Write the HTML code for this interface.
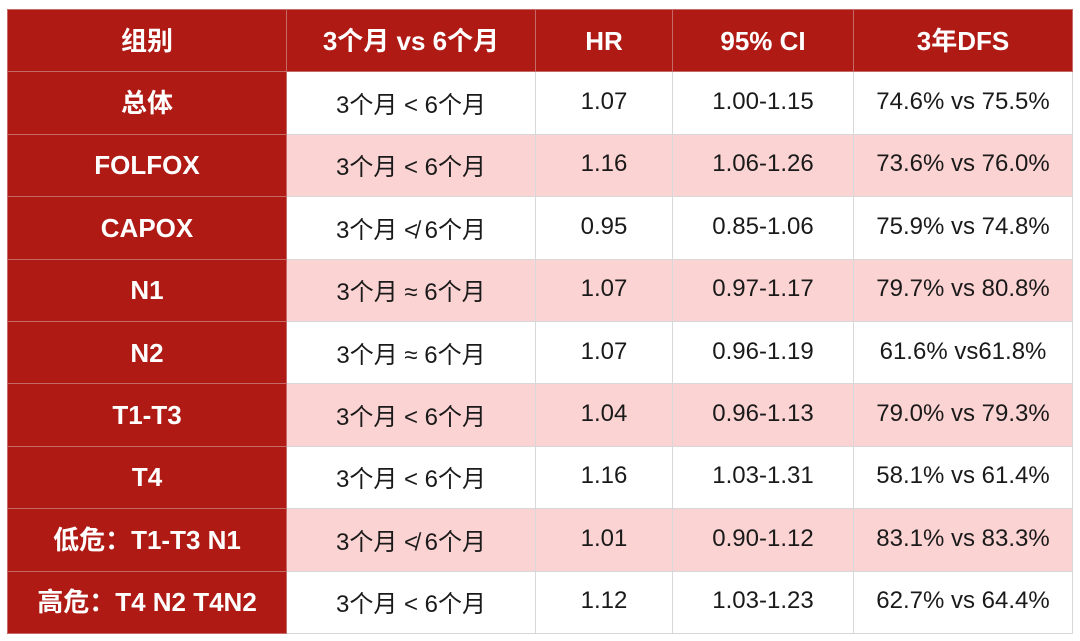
<!DOCTYPE html>
<html><head><meta charset="utf-8"><style>
html,body{margin:0;padding:0;background:#fff;width:1080px;height:641px;overflow:hidden}
table{position:absolute;left:7px;top:9px;border-collapse:collapse;table-layout:fixed;font-family:"Liberation Sans","Noto Sans CJK SC",sans-serif}
tr{height:62.4px}
td{padding:0 0 2px 0;text-align:center;vertical-align:middle;border:1px solid #d8d8d8;font-size:24px;line-height:28px;color:#1a1a1a}
td.h{background:#b01a14;color:#fff;font-weight:bold;font-size:26px;border-color:#c56a66;padding:0}
td.c{padding:6px 0 0 0}
tr.p td{background:#fbd3d2}
tr.p td.h{background:#b01a14}
</style></head><body>
<table>
<colgroup><col style="width:279px"><col style="width:249px"><col style="width:137px"><col style="width:181px"><col style="width:219px"></colgroup>
<tr><td class="h">组别</td><td class="h">3个月 vs 6个月</td><td class="h">HR</td><td class="h">95% CI</td><td class="h">3年DFS</td></tr>
<tr><td class="h">总体</td><td class="c">3个月 &lt; 6个月</td><td>1.07</td><td>1.00-1.15</td><td>74.6% vs 75.5%</td></tr>
<tr class="p"><td class="h">FOLFOX</td><td class="c">3个月 &lt; 6个月</td><td>1.16</td><td>1.06-1.26</td><td>73.6% vs 76.0%</td></tr>
<tr><td class="h">CAPOX</td><td class="c">3个月 ≮ 6个月</td><td>0.95</td><td>0.85-1.06</td><td>75.9% vs 74.8%</td></tr>
<tr class="p"><td class="h">N1</td><td class="c">3个月 ≈ 6个月</td><td>1.07</td><td>0.97-1.17</td><td>79.7% vs 80.8%</td></tr>
<tr><td class="h">N2</td><td class="c">3个月 ≈ 6个月</td><td>1.07</td><td>0.96-1.19</td><td>61.6% vs61.8%</td></tr>
<tr class="p"><td class="h">T1-T3</td><td class="c">3个月 &lt; 6个月</td><td>1.04</td><td>0.96-1.13</td><td>79.0% vs 79.3%</td></tr>
<tr><td class="h">T4</td><td class="c">3个月 &lt; 6个月</td><td>1.16</td><td>1.03-1.31</td><td>58.1% vs 61.4%</td></tr>
<tr class="p"><td class="h">低危：T1-T3 N1</td><td class="c">3个月 ≮ 6个月</td><td>1.01</td><td>0.90-1.12</td><td>83.1% vs 83.3%</td></tr>
<tr><td class="h">高危：T4 N2 T4N2</td><td class="c">3个月 &lt; 6个月</td><td>1.12</td><td>1.03-1.23</td><td>62.7% vs 64.4%</td></tr>
</table>
</body></html>
